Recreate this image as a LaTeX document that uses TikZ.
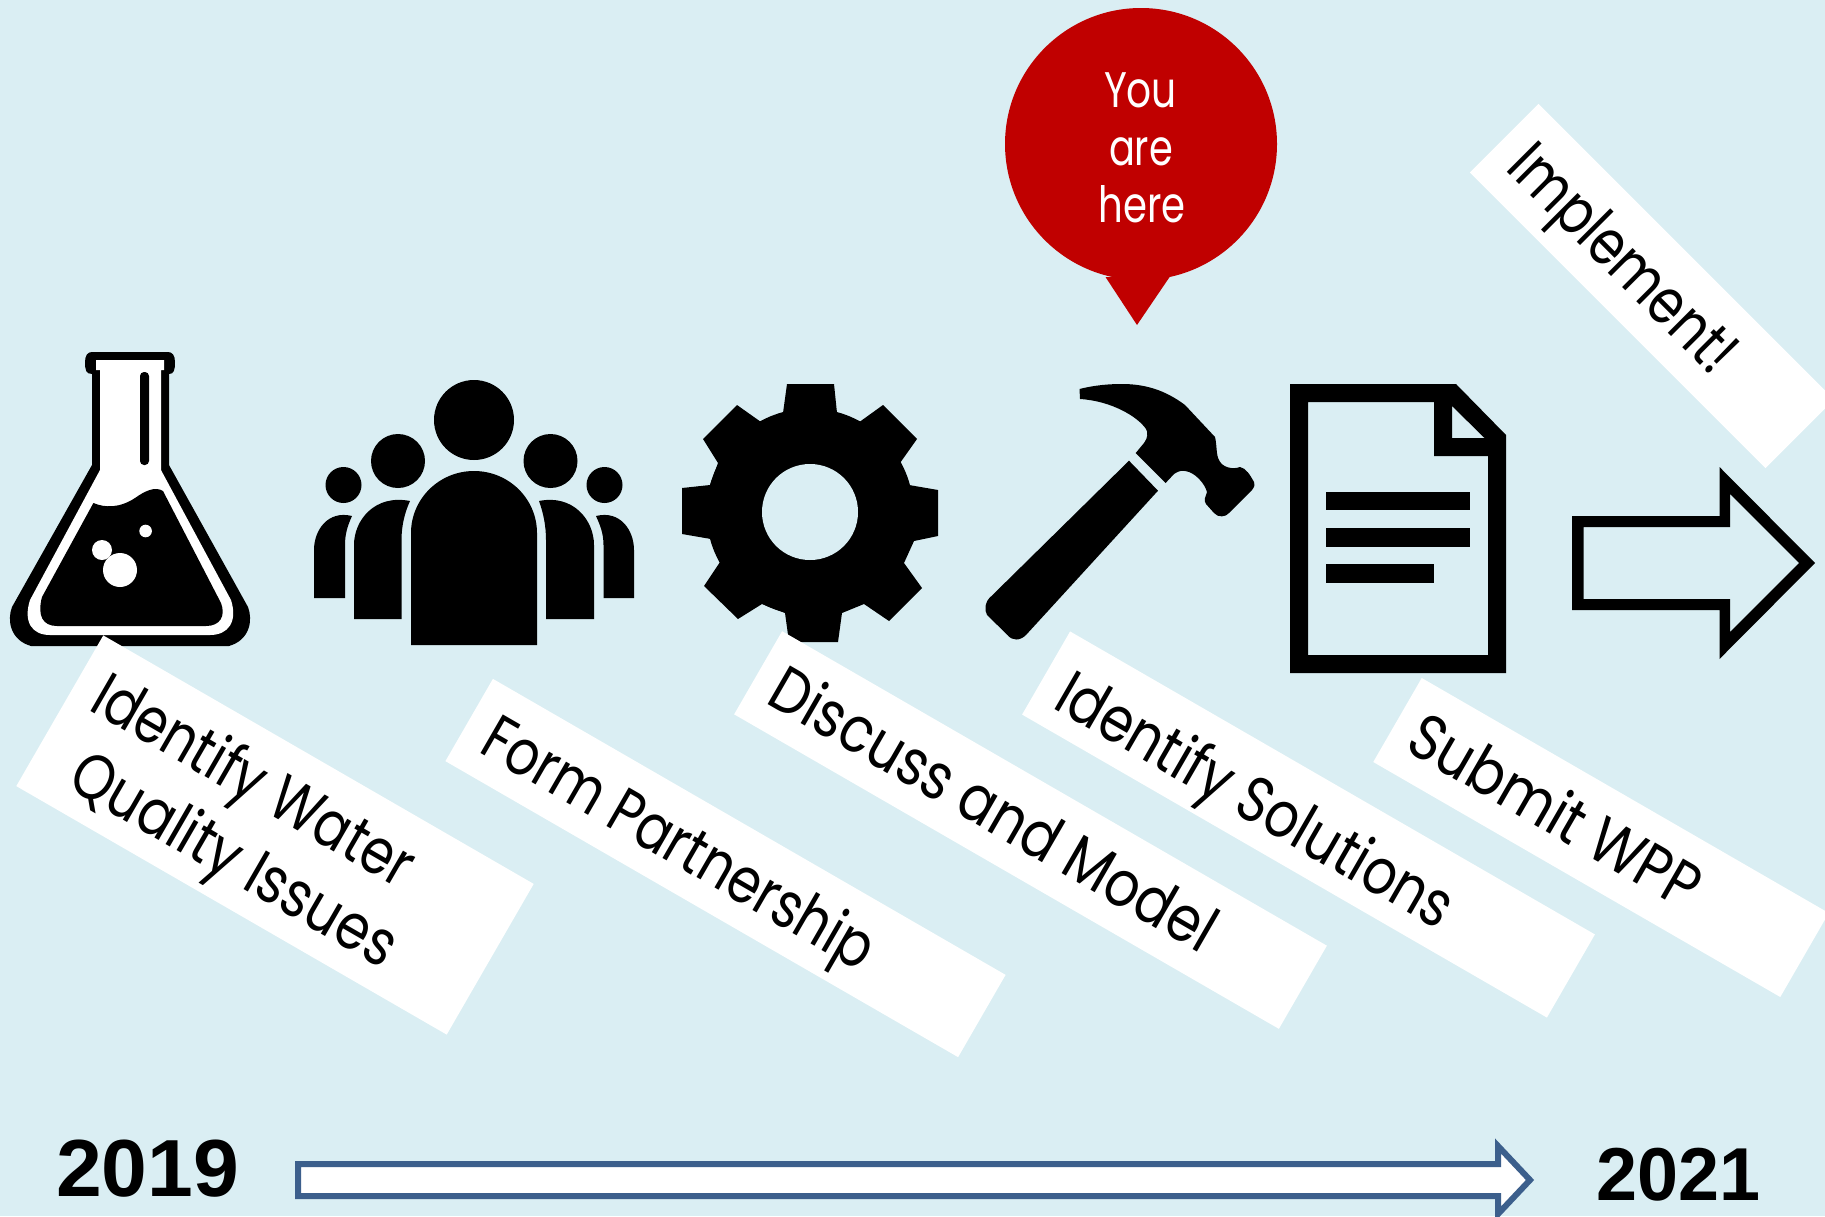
\documentclass[tikz,border=0pt]{standalone}
\usepackage{graphicx}
\usepackage{fontspec}
\setmainfont{Poppins}
\newfontfamily\boldarial{Liberation Sans}[UprightFont=* Bold]
\definecolor{bgblue}{HTML}{DAEEF3}
\definecolor{balloonred}{HTML}{C00000}
\definecolor{timeblue}{HTML}{3C5F8C}
\newcommand{\fitline}[2]{\resizebox{#1pt}{\height}{#2}}
\tikzset{
  labelbox/.style={fill=white,draw=none,inner sep=0pt,rotate=-30,minimum height=96pt},
  labeltext/.style={anchor=base west,inner sep=0pt,rotate=-30,font=\fontsize{64}{64}\selectfont},
  yeartext/.style={anchor=base west,inner sep=0pt,text=black},
  balloontext/.style={anchor=base,inner sep=0pt,text=white,font=\fontsize{50}{50}\selectfont},
  icon/.style={fill=black,draw=none},
  hole/.style={fill=bgblue,draw=none}
}
\begin{document}
\begin{tikzpicture}[x=1pt,y=-1pt]
\useasboundingbox (0,0) rectangle (1825,1216);
\clip (0,0) rectangle (1825,1216);
\fill[bgblue] (0,0) rectangle (1825,1216);

% flask
\fill[icon] (92,374) .. controls (86,374) and (85,370) .. (85,362) .. controls (85,355) and (88,352) .. (92,352)
  -- (168,352) .. controls (172,352) and (175,355) .. (175,362) .. controls (175,370) and (174,374) .. (169,374)
  -- (169,465) -- (248,607) .. controls (253,620) and (250,640) .. (229,646) -- (31,646)
  .. controls (10,640) and (7,620) .. (12,607) -- (92,465) -- cycle;
\fill[white] (96,360) -- (164,360) -- (164,370) -- (161,370) -- (161,470) -- (231,600)
  .. controls (238,622) and (228,635) .. (210,635) -- (50,635)
  .. controls (32,635) and (23,622) .. (30,600) -- (100,470) -- (100,370) -- (96,370) -- cycle;
\fill[icon] (93.4,503) .. controls (105,508) and (120,508) .. (135,498) .. controls (145,491) and (155,486) .. (163,491)
  -- (221,603) .. controls (226,616) and (220,626) .. (206,626) -- (57,626)
  .. controls (43,626) and (37,616) .. (42,597) -- cycle;
\fill[icon,rounded corners=4pt] (140,372) rectangle (149,465);
\fill[white] (145.6,531) circle (6.3);
\fill[white] (102,550) circle (10);
\fill[white] (120,570) circle (17);

% people
\fill[icon] (474,420) circle (40);
\fill[icon] (398,461) circle (27);
\fill[icon] (550.5,461) circle (27);
\fill[icon] (343.5,485) circle (18);
\fill[icon] (604.5,485) circle (18);
\fill[icon] (411,645) -- (411,533) .. controls (411,499) and (439,471) .. (474,471) .. controls (509,471) and (537,499) .. (537,533) -- (537,645) -- cycle;
\fill[icon] (354,619) -- (354,545) .. controls (354,520) and (375,494) .. (410,501) .. controls (405,512) and (401.5,525) .. (401.5,540) -- (401.5,619) -- cycle;
\fill[icon] (594,619) -- (594,545) .. controls (594,520) and (573,494) .. (539,501) .. controls (543,512) and (546,525) .. (546,540) -- (546,619) -- cycle;
\fill[icon] (314,598) -- (314,550) .. controls (314,530) and (328,510) .. (352,516) .. controls (348,525) and (345,533) .. (345,545) -- (345,598) -- cycle;
\fill[icon] (634,598) -- (634,550) .. controls (634,530) and (620,510) .. (596,516) .. controls (600,525) and (603.5,533) .. (603.5,545) -- (603.5,598) -- cycle;

% gear
\fill[icon] (810,512) circle (103.5);
\fill[icon] (787,384) -- (834,384) -- (837,413) -- (859.4,422) -- (883,405) -- (917,439) -- (900,463) -- (909,485) -- (938,490) -- (938,536) -- (914,541) -- (904,563) -- (922,588) -- (889,621) -- (864,604) -- (842,613) -- (838,642) -- (789,642) -- (785,613) -- (762,604) -- (738,619) -- (704,586) -- (720,562) -- (711,539) -- (682,534) -- (682,488) -- (710,485) -- (718,463) -- (703,439) -- (737,405) -- (761,422) -- (783,413) -- cycle;
\fill[hole] (810,512) circle (48);

% hammer
\fill[icon] (1129,460.7) -- (1158,490.7) -- (1026,635) .. controls (1020,641) and (1012,641) .. (1007.5,635)
  -- (987,615) .. controls (984,610) and (985,601) .. (991.5,596) -- cycle;
\fill[icon] (1079.5,389) .. controls (1095,385) and (1110,384) .. (1122,384) .. controls (1145,384) and (1165,390) .. (1185,405)
  -- (1215,437) .. controls (1217,445) and (1216,455) .. (1219,460) .. controls (1222,467) and (1232,470) .. (1240,467)
  .. controls (1246,468) and (1250,475) .. (1254,482) .. controls (1255,486) and (1254,488) .. (1252,490)
  -- (1229,513) .. controls (1226,517) and (1218,518) .. (1214,513) -- (1206,504)
  .. controls (1203,500) and (1206,496) .. (1207,492) .. controls (1205,484) and (1195,472) .. (1185,471)
  .. controls (1179,470) and (1176,473) .. (1174,474) -- (1165.6,483) -- (1135.7,453) -- (1144,443)
  .. controls (1148,438) and (1148,432) .. (1146,429) .. controls (1138,417) and (1112,401) .. (1080,399) -- cycle;

% document
\fill[icon,even odd rule] (1290,384) -- (1456,384) -- (1506,435) -- (1506,673) -- (1290,673) -- cycle
  (1308,402) -- (1434,402) -- (1434,456) -- (1488,456) -- (1488,655) -- (1308,655) -- cycle
  (1452,406) -- (1484.5,438) -- (1452,438) -- cycle;
\fill[icon] (1325.6,492) rectangle (1470,510);
\fill[icon] (1325.6,528) rectangle (1470,547);
\fill[icon] (1325.6,564) rectangle (1434,583);

% outlined arrow
\fill[icon,even odd rule] (1572,516) -- (1719.5,516) -- (1719.5,467) -- (1815,563) -- (1719.5,659) -- (1719.5,610) -- (1572,610) -- cycle
  (1583.6,527) -- (1730,527) -- (1730,494) -- (1799,563) -- (1730,632) -- (1730,599) -- (1583.6,599) -- cycle;

% label boxes
\node[labelbox,minimum width=497pt,minimum height=174pt] (box1) at (275,835) {};
\node[labelbox,minimum width=592pt,minimum height=95pt] (box2) at (725.5,868) {};
\node[labelbox,minimum width=629pt] (box3) at (1030.5,830) {};
\node[labelbox,minimum width=606pt] (box4) at (1308.5,824.5) {};
\node[labelbox,minimum width=470pt,minimum height=97pt] (box5) at (1601,837.5) {};
\node[labelbox,rotate=-15,minimum width=418pt,minimum height=97pt] (box6) at (1652,286) {};

\node[labeltext] (t1a) at (87,709) {\fitline{360}{Identify Water}};
\node[labeltext] (t1b) at (65,786) {\fitline{366}{Quality Issues}};
\node[labeltext] (t2) at (477,751) {\fitline{442}{Form Partnership}};
\node[labeltext] (t3) at (764,702) {\fitline{504}{Discuss and Model}};
\node[labeltext] (t4) at (1051,707) {\fitline{447}{Identify Solutions}};
\node[labeltext] (t5) at (1403,749) {\fitline{325}{Submit WPP}};
\node[labeltext,rotate=-15] (t6) at (1504,169) {\fitline{294}{Implement!}};

% balloon
\fill[balloonred] (1141,144) circle (136);
\fill[balloonred] (1105.5,277) -- (1169.6,277) -- (1137,325) -- cycle;
\node[balloontext] (you) at (1140.5,107) {\fitline{73}{You}};
\node[balloontext] (are) at (1141,165) {\fitline{64}{are}};
\node[balloontext] (here) at (1142,222) {\fitline{87}{here}};

% timeline
\draw[timeblue,fill=white,line width=6pt,miter limit=10] (298,1164) -- (1498,1164) -- (1498,1146) -- (1530,1180) -- (1498,1214) -- (1498,1196) -- (298,1196) -- cycle;
\node[yeartext,font=\boldarial\fontsize{81}{81}\selectfont] (y2019) at (56,1196) {\fitline{183}{2019}};
\node[yeartext,font=\boldarial\fontsize{75}{75}\selectfont] (y2021) at (1596,1200) {\fitline{164}{2021}};
\end{tikzpicture}
\end{document}
